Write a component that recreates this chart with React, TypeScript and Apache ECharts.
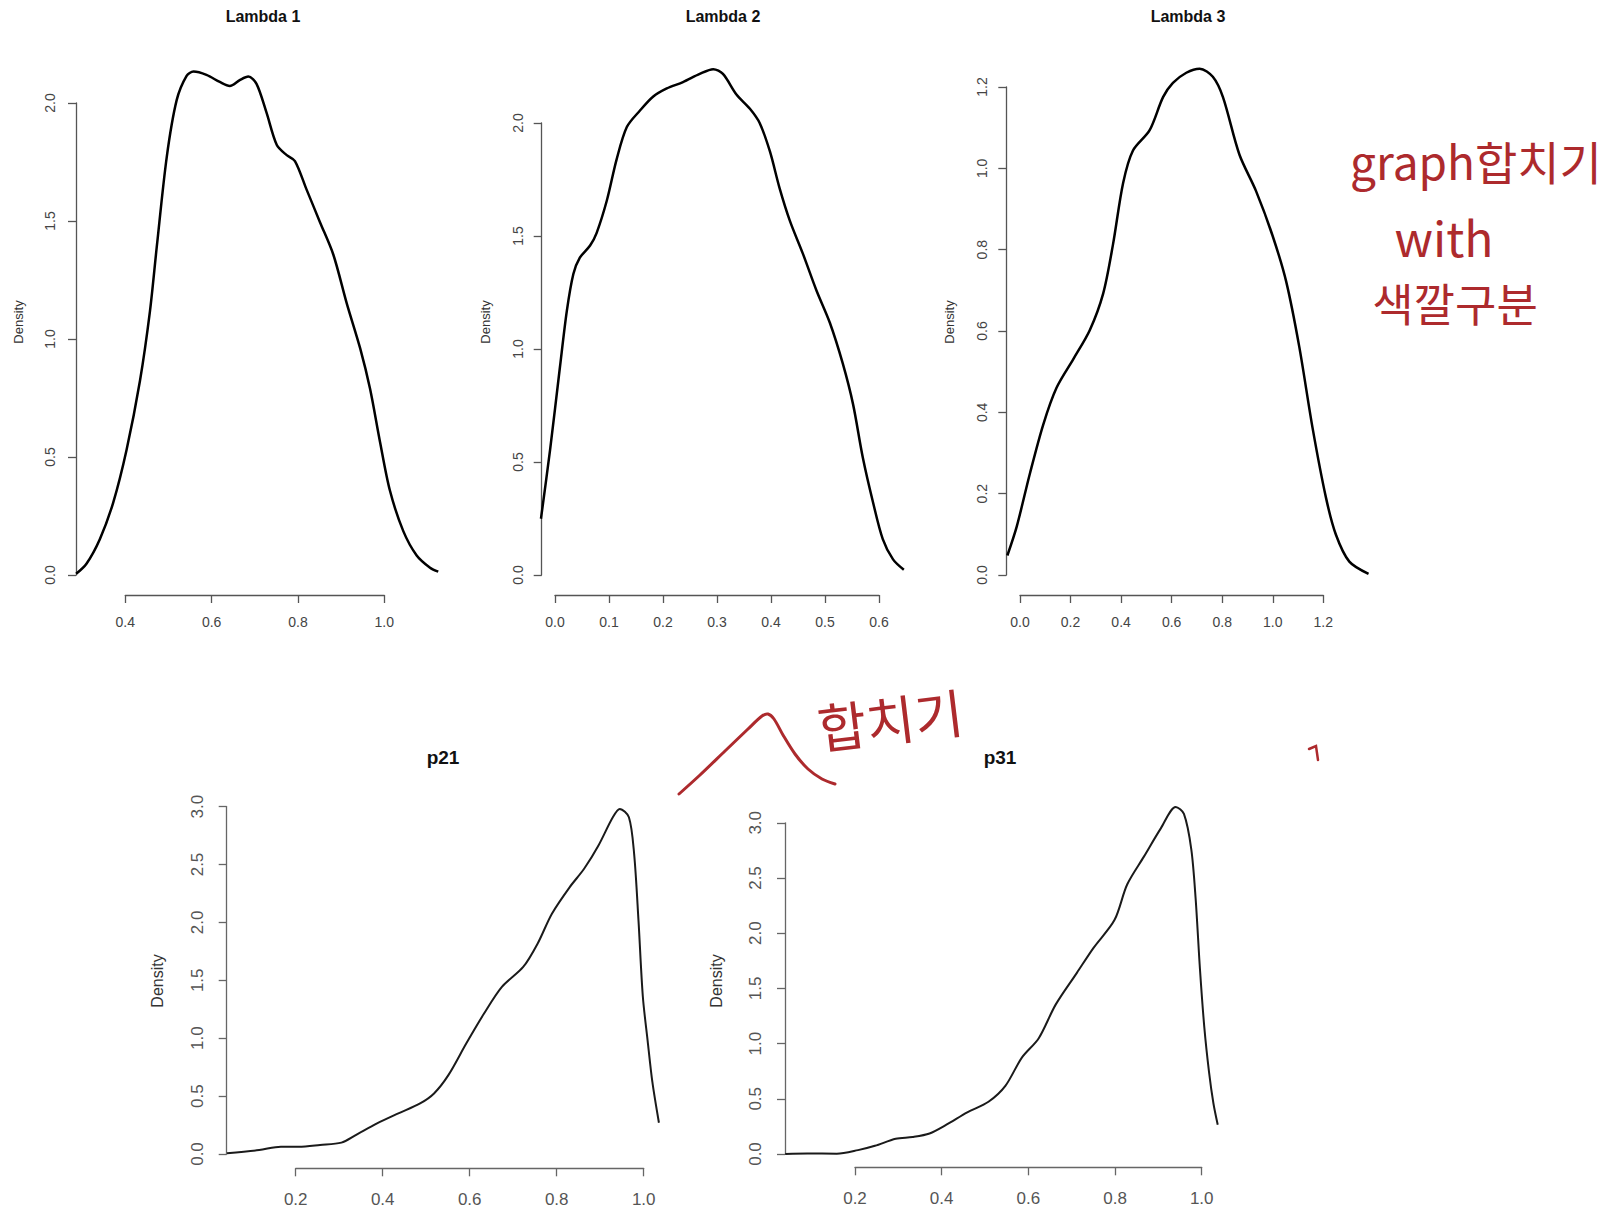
import React, { useEffect, useRef } from "react";
import * as echarts from "echarts";

// ---------- data ----------
const lambda1X = [0.286, 0.31, 0.341, 0.372, 0.403, 0.434, 0.457, 0.473, 0.496, 0.519, 0.542, 0.558, 0.588, 0.619, 0.642, 0.666, 0.685, 0.704, 0.727, 0.751, 0.774, 0.793, 0.82, 0.851, 0.882, 0.913, 0.944, 0.967, 0.99, 1.013, 1.044, 1.075, 1.106, 1.125];
const lambda1Y = [0.005, 0.048, 0.152, 0.307, 0.531, 0.823, 1.116, 1.392, 1.771, 2.012, 2.115, 2.133, 2.119, 2.089, 2.072, 2.098, 2.112, 2.081, 1.96, 1.822, 1.779, 1.754, 1.633, 1.495, 1.357, 1.151, 0.961, 0.789, 0.565, 0.358, 0.186, 0.083, 0.031, 0.014];

const lambda2X = [-0.026, -0.009, 0.009, 0.022, 0.034, 0.046, 0.065, 0.077, 0.096, 0.114, 0.133, 0.157, 0.182, 0.207, 0.237, 0.268, 0.293, 0.311, 0.336, 0.361, 0.379, 0.398, 0.416, 0.435, 0.459, 0.484, 0.509, 0.533, 0.552, 0.57, 0.589, 0.607, 0.626, 0.646];
const lambda2Y = [0.249, 0.556, 0.917, 1.17, 1.332, 1.404, 1.458, 1.513, 1.657, 1.838, 1.982, 2.054, 2.117, 2.153, 2.181, 2.217, 2.238, 2.217, 2.126, 2.063, 2.0, 1.874, 1.711, 1.567, 1.422, 1.26, 1.116, 0.935, 0.755, 0.52, 0.321, 0.159, 0.069, 0.023];

const lambda3X = [-0.05, -0.013, 0.039, 0.092, 0.145, 0.211, 0.276, 0.329, 0.368, 0.408, 0.447, 0.513, 0.566, 0.605, 0.658, 0.711, 0.763, 0.803, 0.868, 0.934, 1.0, 1.053, 1.105, 1.158, 1.211, 1.25, 1.303, 1.379];
const lambda3Y = [0.048, 0.119, 0.249, 0.37, 0.461, 0.531, 0.602, 0.692, 0.813, 0.964, 1.044, 1.094, 1.175, 1.21, 1.235, 1.245, 1.225, 1.175, 1.034, 0.944, 0.833, 0.722, 0.561, 0.36, 0.189, 0.099, 0.033, 0.003];

const p21X = [0.042, 0.116, 0.166, 0.207, 0.256, 0.305, 0.338, 0.387, 0.436, 0.486, 0.518, 0.551, 0.592, 0.633, 0.674, 0.723, 0.756, 0.789, 0.83, 0.863, 0.896, 0.929, 0.945, 0.966, 0.978, 0.988, 0.998, 1.009, 1.02, 1.035];
const p21Y = [0.006, 0.034, 0.063, 0.063, 0.078, 0.098, 0.164, 0.264, 0.351, 0.437, 0.523, 0.681, 0.954, 1.213, 1.443, 1.615, 1.816, 2.075, 2.305, 2.463, 2.664, 2.908, 2.98, 2.908, 2.592, 2.017, 1.36, 0.98, 0.62, 0.27];

const p31X = [0.039, 0.09, 0.158, 0.207, 0.246, 0.294, 0.333, 0.372, 0.411, 0.459, 0.508, 0.547, 0.585, 0.624, 0.663, 0.712, 0.75, 0.799, 0.828, 0.867, 0.906, 0.94, 0.959, 0.976, 0.986, 0.996, 1.006, 1.017, 1.027, 1.037];
const p31Y = [0.0, 0.004, 0.003, 0.035, 0.074, 0.138, 0.154, 0.186, 0.265, 0.377, 0.473, 0.617, 0.873, 1.049, 1.353, 1.641, 1.865, 2.121, 2.441, 2.696, 2.952, 3.144, 3.08, 2.76, 2.313, 1.673, 1.15, 0.74, 0.46, 0.265];

const titles = ["Lambda 1", "Lambda 2", "Lambda 3", "p21", "p31"];
const xTickRanges = [[0.4, 1.0], [0.0, 0.6], [0.0, 1.2], [0.2, 1.0], [0.2, 1.0]];
const xTickSteps = [0.2, 0.1, 0.2, 0.2, 0.2];
const yTickMax = [2.0, 2.0, 1.2, 3.0, 3.0];
const yTickSteps = [0.5, 0.5, 0.2, 0.5, 0.5];
const yLabel = "Density";

// ---------- layout (pixels) ----------
const layout = [
  { xPx: [125.3, 384.3], yPx: [575, 103], axisX: 76, axisY: 595, titleX: 263, titleY: 16, denX: 18, denY: 322, small: true, yMargin: 19 },
  { xPx: [555, 879], yPx: [575, 123], axisX: 541.7, axisY: 595, titleX: 723, titleY: 16, denX: 485, denY: 322, small: true, yMargin: 17 },
  { xPx: [1020, 1323.3], yPx: [575, 87], axisX: 1006.3, axisY: 595, titleX: 1188, titleY: 16, denX: 949, denY: 322, small: true, yMargin: 17 },
  { xPx: [295.7, 643.7], yPx: [1154, 806.6], axisX: 226.7, axisY: 1168.3, titleX: 443, titleY: 757, denX: 157, denY: 981, small: false, yMargin: 21 },
  { xPx: [855, 1201.7], yPx: [1154, 822.8], axisX: 785, axisY: 1167.3, titleX: 1000, titleY: 757, denX: 716, denY: 981, small: false, yMargin: 21 },
];

const seriesX = [lambda1X, lambda2X, lambda3X, p21X, p31X];
const seriesY = [lambda1Y, lambda2Y, lambda3Y, p21Y, p31Y];

const FONT = "'Liberation Sans', Arial, Helvetica, sans-serif";
const HAND = "'Noto Sans CJK KR', 'Noto Sans', sans-serif";
const RED = "#ad2a2d";

export default function App() {
  const ref = useRef<HTMLDivElement>(null);

  useEffect(() => {
    document.body.style.margin = "0";
    if (!ref.current) return;
    const chart = echarts.init(ref.current, undefined, { renderer: "svg" });

    const grids: any[] = [];
    const xAxes: any[] = [];
    const yAxes: any[] = [];
    const series: any[] = [];
    const graphics: any[] = [];
    const n = layout.length;

    // data grids (hidden axes, wide enough to hold whole curve, same pixel scale)
    layout.forEach((L, i) => {
      const [t0, t1] = xTickRanges[i];
      const pxPerX = (L.xPx[1] - L.xPx[0]) / (t1 - t0);
      const pxPerY = (L.yPx[0] - L.yPx[1]) / yTickMax[i];
      const left = L.axisX - 4;
      const right = L.xPx[1] + 90;
      const top = L.yPx[1] - 90;
      const bottom = L.yPx[0] + 12;
      grids.push({
        left,
        top,
        width: right - left,
        height: bottom - top,
        containLabel: false,
        outerBoundsMode: "none",
        show: false,
      });
      xAxes.push({
        gridIndex: i,
        type: "value",
        show: false,
        min: t0 - (L.xPx[0] - left) / pxPerX,
        max: t1 + (right - L.xPx[1]) / pxPerX,
        splitLine: { show: false },
      });
      yAxes.push({
        gridIndex: i,
        type: "value",
        show: false,
        min: -(bottom - L.yPx[0]) / pxPerY,
        max: yTickMax[i] + (L.yPx[1] - top) / pxPerY,
        splitLine: { show: false },
      });
      series.push({
        type: "line",
        name: titles[i],
        xAxisIndex: i,
        yAxisIndex: i,
        data: seriesX[i].map((x, j) => [x, seriesY[i][j]]),
        showSymbol: false,
        symbol: "none",
        smooth: 0.3,
        silent: true,
        lineStyle: { color: L.small ? "#000" : "#1a1a1a", width: L.small ? 2.5 : 2 },
      });
    });

    // axis grids (R-style detached axes spanning only the tick range)
    layout.forEach((L, i) => {
      const axisColor = L.small ? "#555" : "#666";
      const labelColor = L.small ? "#444" : "#555";
      const tickFont = L.small ? 14 : 17;
      const g = n + i;
      grids.push({
        left: L.xPx[0],
        top: L.yPx[1],
        width: L.xPx[1] - L.xPx[0],
        height: L.yPx[0] - L.yPx[1],
        containLabel: false,
        outerBoundsMode: "none",
        show: false,
      });
      xAxes.push({
        gridIndex: g,
        type: "value",
        min: xTickRanges[i][0],
        max: xTickRanges[i][1],
        interval: xTickSteps[i],
        offset: L.axisY - L.yPx[0],
        axisLine: { show: true, onZero: false, lineStyle: { color: axisColor, width: 1.3 } },
        axisTick: { show: true, inside: false, length: 8, lineStyle: { color: axisColor, width: 1.3 } },
        axisLabel: {
          show: true,
          formatter: (v: number) => v.toFixed(1),
          margin: L.small ? 20 : 23,
          fontSize: tickFont,
          fontFamily: FONT,
          color: labelColor,
        },
        splitLine: { show: false },
      });
      yAxes.push({
        gridIndex: g,
        type: "value",
        min: 0,
        max: yTickMax[i],
        interval: yTickSteps[i],
        offset: L.xPx[0] - L.axisX,
        axisLine: { show: true, onZero: false, lineStyle: { color: axisColor, width: 1.3 } },
        axisTick: { show: true, inside: false, length: 8, lineStyle: { color: axisColor, width: 1.3 } },
        axisLabel: {
          show: true,
          rotate: 90,
          formatter: (v: number) => v.toFixed(1),
          margin: L.yMargin,
          fontSize: tickFont,
          fontFamily: FONT,
          color: labelColor,
        },
        splitLine: { show: false },
      });
      graphics.push({
        type: "text",
        x: L.titleX,
        y: L.titleY,
        silent: true,
        style: {
          text: titles[i],
          fontSize: L.small ? 16 : 19,
          fontWeight: "bold",
          fontFamily: FONT,
          fill: "#111",
          textAlign: "center",
          textVerticalAlign: "middle",
        },
      });
      graphics.push({
        type: "text",
        x: L.denX,
        y: L.denY,
        rotation: Math.PI / 2,
        silent: true,
        style: {
          text: yLabel,
          fontSize: L.small ? 13 : 16,
          fontFamily: FONT,
          fill: "#333",
          textAlign: "center",
          textVerticalAlign: "middle",
        },
      });
    });

    // handwritten red notes
    const note = (text: string, x: number, y: number, size: number, rot = 0) => ({
      type: "text",
      x,
      y,
      rotation: rot,
      silent: true,
      style: {
        text,
        fontSize: size,
        fontFamily: HAND,
        fill: RED,
        textAlign: "center",
        textVerticalAlign: "middle",
      },
    });
    graphics.push(note("graph합치기", 1476, 160, 46));
    graphics.push(note("with", 1444, 236, 48));
    graphics.push(note("색깔구분", 1455, 302, 45));
    graphics.push(note("합치기", 890, 718, 53, 0.12));
    graphics.push({
      type: "polyline",
      silent: true,
      shape: {
        points: [[679, 794], [700, 775], [725, 751], [748, 729], [762, 716], [768, 714], [774, 719], [783, 735], [795, 754], [808, 769], [822, 779], [835, 784]],
        smooth: 0.3,
      },
      style: { stroke: RED, lineWidth: 3, fill: null, lineCap: "round", lineJoin: "round" },
    });
    graphics.push({
      type: "polyline",
      silent: true,
      shape: { points: [[1309, 749], [1316, 746], [1318, 760]] },
      style: { stroke: RED, lineWidth: 2.5, fill: null, lineCap: "round" },
    });

    chart.setOption({
      animation: false,
      backgroundColor: "#ffffff",
      grid: grids,
      xAxis: xAxes,
      yAxis: yAxes,
      series,
      graphic: graphics,
    });

    return () => chart.dispose();
  }, []);

  return (
    <div
      ref={ref}
      style={{ position: "absolute", left: 0, top: 0, width: 1615, height: 1212 }}
    />
  );
}
